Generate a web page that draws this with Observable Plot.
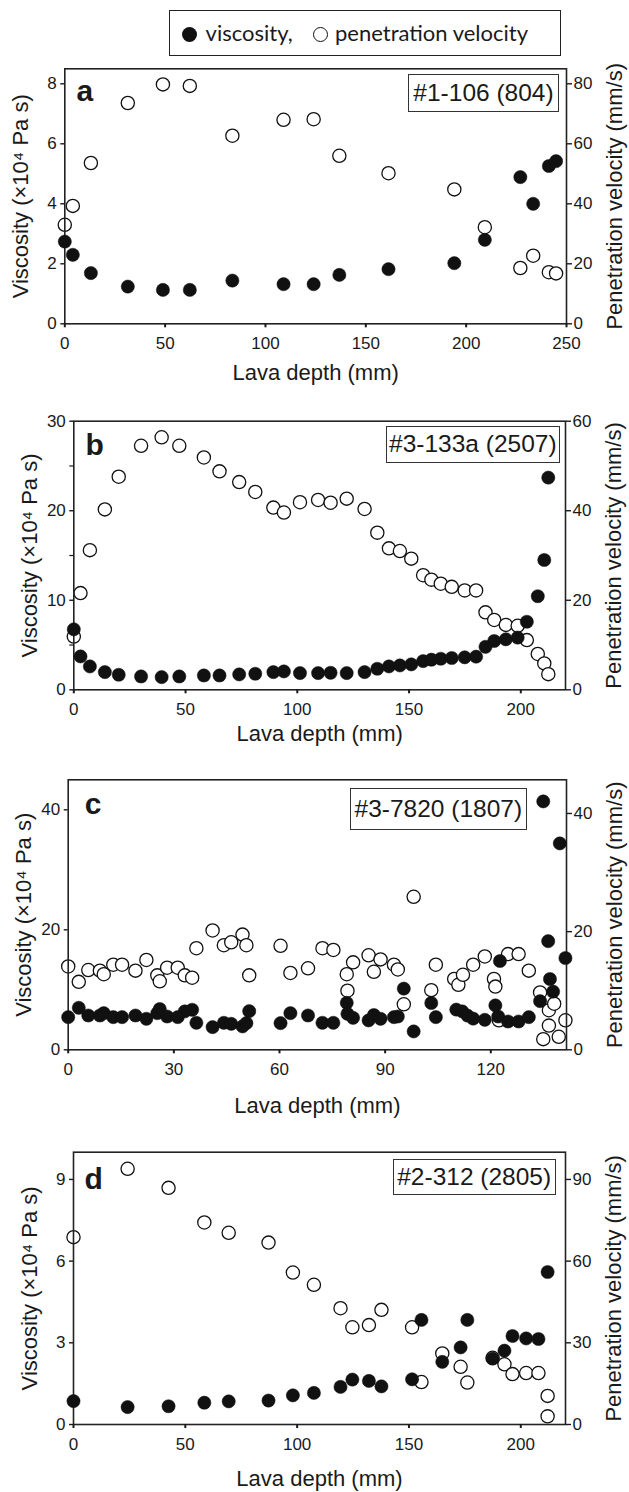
<!DOCTYPE html>
<html>
<head>
<meta charset="utf-8">
<script src="https://cdn.jsdelivr.net/npm/d3@7"></script>
<script src="https://cdn.jsdelivr.net/npm/@observablehq/plot@0.6"></script>
<style>
  body { margin: 0; background: #fff; }
  #root { position: relative; width: 629px; height: 1492px; overflow: hidden;
          font-family: "Liberation Sans", Arial, sans-serif; color: #1a1a1a; }
  .layer { position: absolute; left: 0; }
  .tag { position: absolute; box-sizing: border-box; border: 1.4px solid #333; background: #fff;
         font-size: 24.5px; display: flex; align-items: center; justify-content: center; white-space: nowrap; }
  .legend { position: absolute; box-sizing: border-box; border: 1.4px solid #222; background: #fff; }
  .lg-item { position: absolute; font-family: Lato, "Open Sans", sans-serif; font-size: 22px; line-height: 1; white-space: nowrap; }
  .lg-dot { position: absolute; width: 15px; height: 15px; border-radius: 50%; box-sizing: border-box; }
</style>
</head>
<body>
<div id="root"></div>
<script>
// ---------- data ----------
// panel a  #1-106 (804)
const aDepth     = [0, 4.0, 13.0, 31.4, 48.9, 62.3, 83.5, 109.0, 124.0, 136.8, 161.3, 194.1, 209.3, 227.0, 233.4, 241.2, 244.8];
const aViscosity = [2.74, 2.30, 1.69, 1.24, 1.13, 1.13, 1.44, 1.32, 1.32, 1.63, 1.82, 2.02, 2.80, 4.89, 4.00, 5.26, 5.42];
const aVelocity  = [33.0, 39.3, 53.6, 73.6, 79.8, 79.3, 62.7, 68.0, 68.2, 56.0, 50.2, 44.8, 32.2, 18.6, 22.7, 17.2, 16.8];

// panel b  #3-133a (2507)
const bDepth     = [0, 3.0, 7.2, 13.9, 20.1, 30.1, 39.3, 47.2, 58.2, 65.2, 74.0, 81.2, 89.3, 94.0, 101.2, 109.3, 114.9, 122.1, 130.1, 135.8, 141.0, 145.9, 151.0, 156.3, 160.0, 164.2, 169.1, 174.9, 180.0, 184.2, 188.1, 193.3, 198.6, 202.7, 207.6, 210.5, 212.3];
const bViscosity = [6.75, 3.73, 2.61, 1.98, 1.68, 1.49, 1.42, 1.49, 1.60, 1.60, 1.72, 1.79, 1.98, 2.05, 1.87, 1.87, 1.90, 1.87, 1.98, 2.35, 2.61, 2.72, 2.84, 3.20, 3.36, 3.47, 3.55, 3.63, 3.70, 4.80, 5.45, 5.64, 5.83, 7.60, 10.45, 14.5, 23.7];
const bVelocity  = [11.9, 21.6, 31.2, 40.3, 47.6, 54.5, 56.4, 54.5, 51.9, 48.8, 46.4, 44.2, 40.7, 39.6, 41.9, 42.4, 41.8, 42.7, 40.4, 35.1, 31.6, 31.0, 29.3, 25.6, 24.6, 23.7, 23.0, 22.2, 22.2, 17.3, 15.6, 14.5, 14.3, 11.1, 8.0, 5.9, 3.5];

// panel c  #3-7820 (1807)
const cViscDepth = [0, 3.0, 5.7, 9.0, 10.1, 12.8, 15.3, 19.1, 22.2, 25.3, 26.0, 28.1, 31.1, 33.1, 35.2, 36.4, 41.0, 44.2, 46.3, 49.5, 50.6, 51.4, 60.3, 63.1, 68.1, 72.2, 75.3, 79.1, 79.3, 80.9, 85.3, 86.8, 88.7, 92.5, 93.6, 95.3, 98.1, 103.1, 104.4, 110.2, 111.9, 113.4, 115.0, 118.3, 121.3, 122.1, 122.6, 124.9, 127.9, 130.8, 134.0, 134.9, 136.3, 136.8, 137.7, 139.6, 141.2];
const cViscosity = [5.44, 7.0, 5.72, 5.72, 6.1, 5.44, 5.44, 5.72, 5.17, 6.1, 6.8, 5.55, 5.44, 6.4, 6.67, 4.5, 3.78, 4.5, 4.33, 3.9, 4.44, 6.44, 4.44, 6.1, 5.72, 4.5, 4.5, 7.83, 6.0, 5.33, 4.9, 5.8, 5.17, 5.44, 5.55, 10.2, 3.06, 7.8, 5.44, 6.7, 6.4, 5.7, 5.2, 5.0, 7.4, 5.55, 14.8, 4.72, 4.72, 5.44, 8.1, 41.4, 18.1, 11.8, 9.7, 34.4, 15.3];
const cVelDepth  = [0, 3.0, 5.7, 9.0, 10.1, 12.8, 15.3, 19.1, 22.2, 25.3, 26.0, 28.1, 31.1, 33.1, 35.2, 36.4, 41.0, 44.2, 46.3, 49.5, 50.6, 51.4, 60.3, 63.1, 68.1, 72.2, 75.3, 79.1, 79.3, 80.9, 85.3, 86.8, 88.7, 92.5, 93.6, 95.3, 98.1, 103.1, 104.4, 109.6, 110.8, 112.1, 115.0, 118.3, 120.9, 121.3, 122.3, 124.9, 127.9, 130.8, 134.0, 134.9, 136.5, 136.5, 138.0, 139.3, 141.2];
const cVelocity  = [14.1, 11.5, 13.5, 13.4, 12.8, 14.4, 14.4, 13.4, 15.2, 12.6, 11.6, 13.9, 13.9, 12.6, 12.2, 17.2, 20.2, 17.7, 18.2, 19.5, 17.7, 12.6, 17.6, 13.0, 13.8, 17.2, 16.9, 12.8, 10.0, 14.8, 16.0, 13.2, 15.3, 14.4, 13.6, 7.7, 25.9, 10.1, 14.4, 12.0, 11.0, 12.7, 14.4, 15.8, 12.0, 10.7, 5.0, 16.2, 16.2, 13.4, 9.7, 1.8, 6.7, 4.1, 7.8, 2.2, 5.0];

// panel d  #2-312 (2805)
const dViscDepth = [0, 24.2, 42.5, 58.5, 69.4, 87.2, 98.1, 107.5, 119.4, 124.7, 132.1, 137.7, 151.4, 155.6, 164.9, 173.1, 176.1, 187.4, 192.7, 196.3, 202.4, 207.9, 212.0];
const dViscosity = [0.86, 0.64, 0.67, 0.80, 0.85, 0.88, 1.07, 1.16, 1.38, 1.65, 1.60, 1.40, 1.66, 3.84, 2.30, 2.83, 3.84, 2.42, 2.71, 3.25, 3.16, 3.14, 5.60];
const dVelDepth  = [0, 24.2, 42.5, 58.5, 69.4, 87.2, 98.1, 107.5, 119.4, 124.7, 132.1, 137.7, 151.4, 155.6, 164.9, 173.1, 176.1, 187.4, 192.7, 196.3, 202.4, 207.9, 212.0, 212.0];
const dVelocity  = [68.8, 93.9, 86.9, 74.2, 70.4, 66.8, 55.8, 51.3, 42.7, 35.7, 36.5, 42.1, 35.7, 15.6, 26.1, 21.2, 15.4, 24.5, 22.1, 18.5, 18.9, 18.9, 10.5, 3.0];

// labels and ticks
const panelLetters = ["a", "b", "c", "d"];
const sampleTags   = ["#1-106 (804)", "#3-133a (2507)", "#3-7820 (1807)", "#2-312 (2805)"];
const xTitle = "Lava depth (mm)";
const yTitleLeft = "Viscosity (×10⁴ Pa s)";
const yTitleRight = "Penetration velocity (mm/s)";
const legendLabels = ["viscosity,", "penetration velocity"];

const xTicksA = [0, 50, 100, 150, 200, 250], yTicksA = [0, 2, 4, 6, 8], vTicksA = [0, 20, 40, 60, 80];
const xTicksB = [0, 50, 100, 150, 200], yTicksB = [0, 10, 20, 30], yMinorB = [5, 15, 25], vTicksB = [0, 20, 40, 60];
const xTicksC = [0, 30, 60, 90, 120], yTicksC = [0, 20, 40], vTicksC = [0, 20, 40];
const xTicksD = [0, 50, 100, 150, 200], yTicksD = [0, 3, 6, 9], vTicksD = [0, 30, 60, 90];

// ---------- layout ----------
const W = 629;
const FONT = "'Liberation Sans', Arial, sans-serif";
const INK = "#1a1a1a";

const panels = [
  { visDepth: aDepth, vis: aViscosity, velDepth: aDepth, vel: aVelocity,
    xDomain: [0, 250], yDomain: [0, 8.5], vDomain: [0, 85],
    xTicks: xTicksA, yTicks: yTicksA, yMinor: [], vTicks: vTicksA,
    top: 58, height: 332, L: 64.3, R: 566, T: 68.3, B: 323.3, xLabelDy: 49,
    letterDx: 11.7, letterDy: 10.5, tagBox: [408, 74, 151, 38] },
  { visDepth: bDepth, vis: bViscosity, velDepth: bDepth, vel: bVelocity,
    xDomain: [0, 220], yDomain: [0, 30], vDomain: [0, 60],
    xTicks: xTicksB, yTicks: yTicksB, yMinor: yMinorB, vTicks: vTicksB,
    top: 400, height: 345, L: 73.3, R: 565, T: 420.7, B: 689.3, xLabelDy: 44,
    letterDx: 11.7, letterDy: 12, tagBox: [385.7, 426, 174.3, 36.7] },
  { visDepth: cViscDepth, vis: cViscosity, velDepth: cVelDepth, vel: cVelocity,
    xDomain: [0, 141.5], yDomain: [0, 45], vDomain: [0, 45.7],
    xTicks: xTicksC, yTicks: yTicksC, yMinor: [], vTicks: vTicksC,
    top: 760, height: 360, L: 67.7, R: 566, T: 779.3, B: 1049.3, xLabelDy: 56,
    letterDx: 16.6, letterDy: 13, tagBox: [350, 788.3, 176.7, 41.7] },
  { visDepth: dViscDepth, vis: dViscosity, velDepth: dVelDepth, vel: dVelocity,
    xDomain: [0, 220], yDomain: [0, 10], vDomain: [0, 100],
    xTicks: xTicksD, yTicks: yTicksD, yMinor: [], vTicks: vTicksD,
    top: 1135, height: 357, L: 73, R: 565, T: 1151.7, B: 1424, xLabelDy: 54,
    letterDx: 11, letterDy: 15, tagBox: [392.7, 1159.3, 163, 35.7] }
];

const root = document.getElementById("root");

// legend (above the charts)
const legend = document.createElement("div");
legend.className = "legend";
Object.assign(legend.style, { left: "168.7px", top: "10px", width: "392.3px", height: "46px" });
root.appendChild(legend);
function addAbs(el, styles) { Object.assign(el.style, styles); root.appendChild(el); return el; }
const lgDot1 = document.createElement("div"); lgDot1.className = "lg-dot";
addAbs(lgDot1, { left: "182px", top: "26.5px", background: "#111" });
const lgTxt1 = document.createElement("div"); lgTxt1.className = "lg-item"; lgTxt1.textContent = legendLabels[0];
addAbs(lgTxt1, { left: "205.6px", top: "22px" });
const lgDot2 = document.createElement("div"); lgDot2.className = "lg-dot";
addAbs(lgDot2, { left: "312.5px", top: "26.5px", background: "#fff", border: "1.4px solid #111" });
const lgTxt2 = document.createElement("div"); lgTxt2.className = "lg-item"; lgTxt2.textContent = legendLabels[1];
addAbs(lgTxt2, { left: "335px", top: "22px" });

panels.forEach((p, i) => {
  const common = {
    width: W, height: p.height,
    marginLeft: p.L, marginRight: W - p.R,
    marginTop: p.T - p.top, marginBottom: p.top + p.height - p.B,
    style: { fontFamily: FONT, fontSize: "17px", color: INK, background: "transparent", overflow: "visible" }
  };
  const velData = p.velDepth.map((d, k) => ({ depth: d, value: p.vel[k] }));
  const visData = p.visDepth.map((d, k) => ({ depth: d, value: p.vis[k] }));

  // back layer: penetration velocity (right axis, open circles)
  const back = Plot.plot({
    ...common,
    x: { domain: p.xDomain, axis: null },
    y: { domain: p.vDomain },
    marks: [
      Plot.axisY({ anchor: "right", ticks: p.vTicks, tickSize: 5, tickPadding: 2, label: null, strokeWidth: 1.4, fontSize: 17 }),
      Plot.dot(velData, { x: "depth", y: "value", r: 6.6, fill: "white", stroke: "#111", strokeWidth: 1.3 }),
      Plot.text([yTitleRight], { frameAnchor: "right", dx: 48, rotate: -90, textAnchor: "middle", lineAnchor: "middle", fontSize: 22, fill: INK })
    ]
  });

  // front layer: viscosity (left axis, filled circles), frame, x axis, titles
  const front = Plot.plot({
    ...common,
    x: { domain: p.xDomain },
    y: { domain: p.yDomain },
    marks: [
      Plot.frame({ stroke: "#222", strokeWidth: 1.6 }),
      Plot.axisX({ ticks: p.xTicks, tickSize: 4, tickPadding: 9, label: null, strokeWidth: 2, fontSize: 17 }),
      Plot.axisY({ anchor: "left", ticks: p.yTicks, tickSize: 4, tickPadding: 4, label: null, strokeWidth: 1.4, fontSize: 17 }),
      p.yMinor.length ? Plot.axisY({ anchor: "left", ticks: p.yMinor, tickSize: 4, tickFormat: () => "", label: null, strokeWidth: 1.2 }) : null,
      Plot.dot(visData, { x: "depth", y: "value", r: 6.6, fill: "#111", stroke: "#111", strokeWidth: 0.5 }),
      Plot.text([yTitleLeft], { frameAnchor: "left", dx: -44, rotate: -90, textAnchor: "middle", lineAnchor: "middle", fontSize: 22, fill: INK }),
      Plot.text([xTitle], { frameAnchor: "bottom", dy: p.xLabelDy, lineAnchor: "middle", fontSize: 22, fill: INK }),
      Plot.text([panelLetters[i]], { frameAnchor: "top-left", dx: p.letterDx, dy: p.letterDy, lineAnchor: "top", textAnchor: "start", fontSize: 30, fontWeight: "bold", fill: INK })
    ]
  });

  [back, front].forEach(svg => {
    const wrap = document.createElement("div");
    wrap.className = "layer";
    wrap.style.top = p.top + "px";
    wrap.appendChild(svg);
    root.appendChild(wrap);
  });

  const tag = document.createElement("div");
  tag.className = "tag";
  tag.textContent = sampleTags[i];
  const [tl, tt, tw, th] = p.tagBox;
  Object.assign(tag.style, { left: tl + "px", top: tt + "px", width: tw + "px", height: th + "px" });
  root.appendChild(tag);
});
</script>
</body>
</html>
